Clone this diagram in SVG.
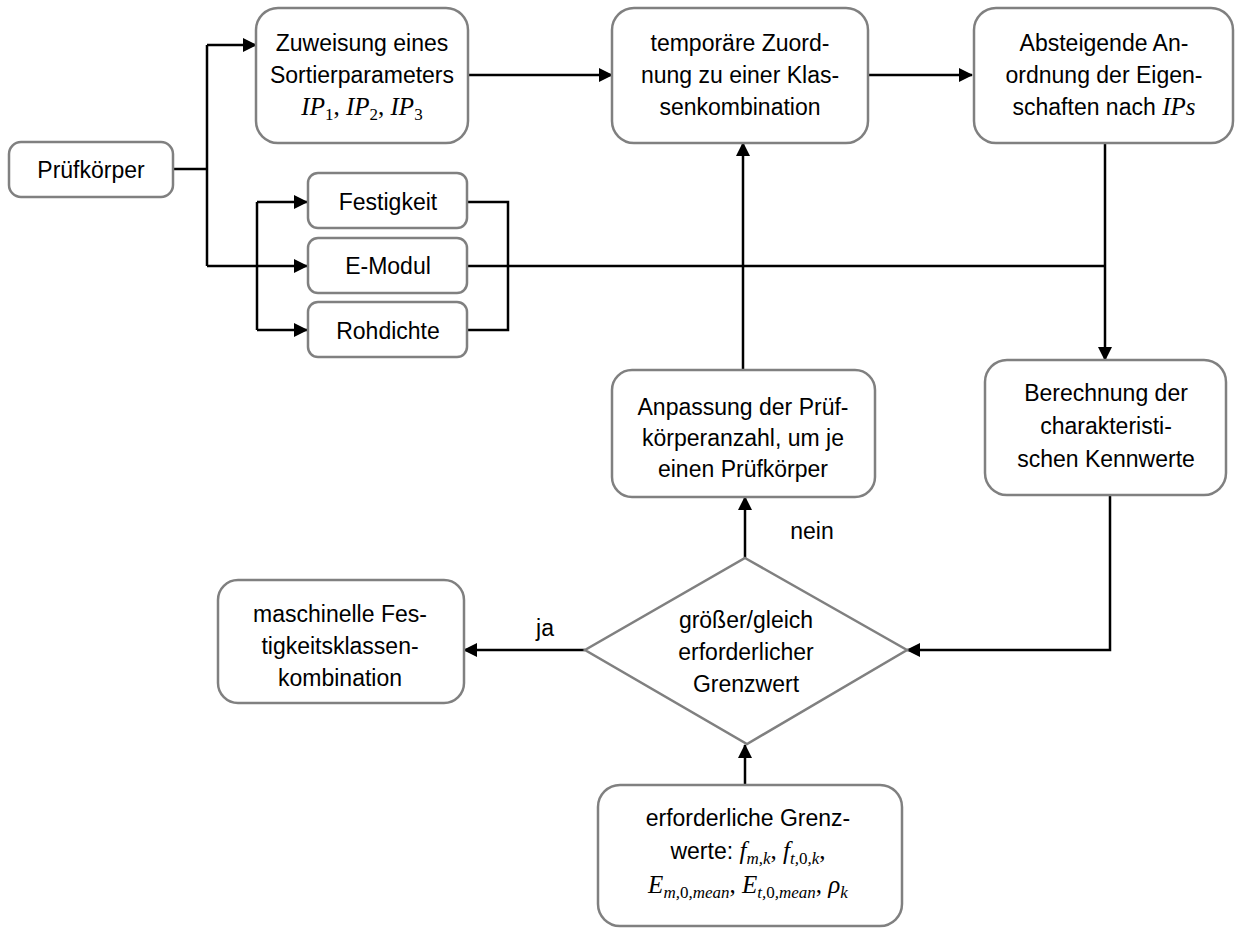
<svg xmlns="http://www.w3.org/2000/svg" width="1236" height="929" viewBox="0 0 1236 929">
<style>
.box{fill:#fff;stroke:#808080;stroke-width:2.5}
.t{font-family:"Liberation Sans",Arial,sans-serif;font-size:23px;fill:#000;text-anchor:middle}
.m{font-family:"Liberation Serif","Times New Roman",serif;font-style:italic;font-size:25px}
.u{font-style:normal}
.s{font-size:17px}
.c{fill:none;stroke:#000;stroke-width:2.5}
</style>
<defs>
<marker id="ah" markerUnits="userSpaceOnUse" markerWidth="14" markerHeight="14" viewBox="0 0 14 14" refX="13" refY="7" orient="auto">
<path d="M0,0 L14,7 L0,14 z" fill="#000"/>
</marker>
</defs>
<rect width="1236" height="929" fill="#fff"/>
<g id="connectors">
<path class="c" d="M173,169 H207 M207,45 V266"/>
<path class="c" d="M207,45 H256" marker-end="url(#ah)"/>
<path class="c" d="M207,266 H307" marker-end="url(#ah)"/>
<path class="c" d="M257,202 V330"/>
<path class="c" d="M257,202 H307" marker-end="url(#ah)"/>
<path class="c" d="M257,330 H307" marker-end="url(#ah)"/>
<path class="c" d="M467,202 H508 V330 H467"/>
<path class="c" d="M467,266 H1105"/>
<path class="c" d="M468,75 H612" marker-end="url(#ah)"/>
<path class="c" d="M868,75 H972" marker-end="url(#ah)"/>
<path class="c" d="M1105,143 V360" marker-end="url(#ah)"/>
<path class="c" d="M743,370 V143" marker-end="url(#ah)"/>
<path class="c" d="M1110,495 V650 H907" marker-end="url(#ah)"/>
<path class="c" d="M745,558 V497" marker-end="url(#ah)"/>
<path class="c" d="M585,650 H464" marker-end="url(#ah)"/>
<path class="c" d="M745,785 V745" marker-end="url(#ah)"/>
<text class="t" x="812" y="539">nein</text>
<text class="t" x="545" y="636">ja</text>
</g>
<g id="pruefkoerper">
<rect class="box" x="9" y="142" width="164" height="55" rx="12"/>
<text class="t" x="91" y="178">Prüfkörper</text>
</g>
<g id="zuweisung">
<rect class="box" x="256" y="8" width="212" height="135" rx="22"/>
<text class="t" x="362" y="51">Zuweisung eines</text>
<text class="t" x="362" y="83">Sortierparameters</text>
<text class="t" x="362" y="115"><tspan class="m">IP</tspan><tspan class="m s u" dy="5">1</tspan><tspan class="m u" dy="-5">, </tspan><tspan class="m">IP</tspan><tspan class="m s u" dy="5">2</tspan><tspan class="m u" dy="-5">, </tspan><tspan class="m">IP</tspan><tspan class="m s u" dy="5">3</tspan></text>
</g>
<g id="temporaer">
<rect class="box" x="612" y="8" width="256" height="135" rx="22"/>
<text class="t" x="740" y="51">temporäre Zuord-</text>
<text class="t" x="740" y="83">nung zu einer Klas-</text>
<text class="t" x="740" y="115">senkombination</text>
</g>
<g id="absteigend">
<rect class="box" x="974" y="8" width="259" height="135" rx="22"/>
<text class="t" x="1104" y="51">Absteigende An-</text>
<text class="t" x="1104" y="83">ordnung der Eigen-</text>
<text class="t" x="1104" y="115">schaften nach <tspan class="m">IPs</tspan></text>
</g>
<g id="festigkeit">
<rect class="box" x="308" y="173" width="159" height="55" rx="10"/>
<text class="t" x="388" y="210">Festigkeit</text>
</g>
<g id="emodul">
<rect class="box" x="308" y="238" width="159" height="55" rx="10"/>
<text class="t" x="388" y="274">E-Modul</text>
</g>
<g id="rohdichte">
<rect class="box" x="308" y="302" width="159" height="55" rx="10"/>
<text class="t" x="388" y="339">Rohdichte</text>
</g>
<g id="anpassung">
<rect class="box" x="612" y="370" width="263" height="127" rx="20"/>
<text class="t" x="743" y="415">Anpassung der Prüf-</text>
<text class="t" x="743" y="446">körperanzahl, um je</text>
<text class="t" x="743" y="477">einen Prüfkörper</text>
</g>
<g id="berechnung">
<rect class="box" x="985" y="360" width="241" height="135" rx="22"/>
<text class="t" x="1106" y="401">Berechnung der</text>
<text class="t" x="1106" y="434">charakteristi-</text>
<text class="t" x="1106" y="467">schen Kennwerte</text>
</g>
<g id="entscheidung">
<polygon points="745,558 907,650 747,744 585,650" fill="#fff" stroke="#808080" stroke-width="2.5"/>
<text class="t" x="746" y="628">größer/gleich</text>
<text class="t" x="746" y="660">erforderlicher</text>
<text class="t" x="746" y="692">Grenzwert</text>
</g>
<g id="maschinell">
<rect class="box" x="218" y="580" width="246" height="123" rx="20"/>
<text class="t" x="340" y="622">maschinelle Fes-</text>
<text class="t" x="340" y="654">tigkeitsklassen-</text>
<text class="t" x="340" y="686">kombination</text>
</g>
<g id="grenzwerte">
<rect class="box" x="598" y="785" width="304" height="141" rx="22"/>
<text class="t" x="748" y="826">erforderliche Grenz-</text>
<text class="t" x="748" y="859">werte: <tspan class="m">f</tspan><tspan class="m s" dy="5">m,k</tspan><tspan class="m u" dy="-5">, </tspan><tspan class="m">f</tspan><tspan class="m s" dy="5">t,</tspan><tspan class="m s u">0</tspan><tspan class="m s">,k</tspan><tspan class="m u" dy="-5">,</tspan></text>
<text class="t" x="748" y="893"><tspan class="m">E</tspan><tspan class="m s" dy="5">m,</tspan><tspan class="m s u">0</tspan><tspan class="m s">,mean</tspan><tspan class="m u" dy="-5">, </tspan><tspan class="m">E</tspan><tspan class="m s" dy="5">t,</tspan><tspan class="m s u">0</tspan><tspan class="m s">,mean</tspan><tspan class="m u" dy="-5">, </tspan><tspan class="m">ρ</tspan><tspan class="m s" dy="5">k</tspan></text>
</g>
</svg>
